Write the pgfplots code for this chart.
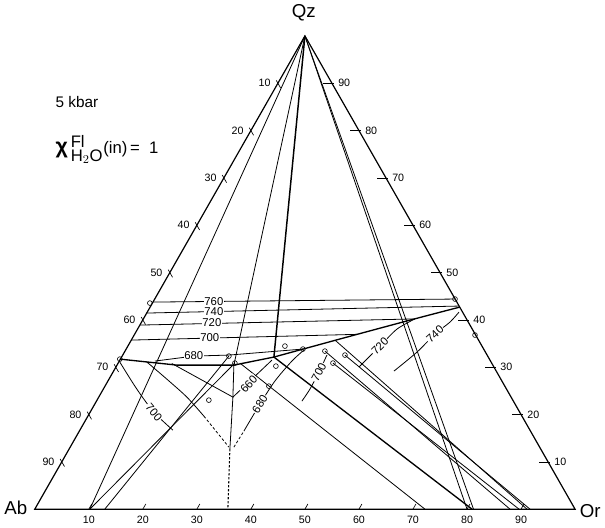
\documentclass[border=0pt]{standalone}
\usepackage{fontspec}
\setmainfont{Liberation Sans}
\usepackage{pgfplots}
\pgfplotsset{compat=1.18}
\newcommand\ticksize{\fontsize{8}{9}\selectfont}
\newcommand\isosize{\fontsize{8.5}{10}\selectfont}
% Ternary Qz-Ab-Or diagram: X = Or + Qz/2, Y = Qz (per cent)
\begin{document}
\begin{tikzpicture}
\begin{axis}[
  x=4.05pt, y=3.5475pt,
  xmin=-7.04, xmax=105.0, ymin=-2.96, ymax=107.82,
  hide axis, clip=false,
  cycle list={{black, solid, mark=none}},
  every axis plot/.append style={black, line width=0.6pt},
]
% frame of the triangle
\addplot[line width=0.9pt] coordinates {(0,0) (100,0) (50,100)} --cycle;

% edge ticks and labels
\pgfplotsinvokeforeach{10,20,...,90}{
  \draw[line width=0.5pt] (axis cs:#1,0) -- (axis cs:{#1+0.55},1.1);
  \node[font=\ticksize] at (axis cs:#1,-2.2) {#1};
  \draw[line width=0.5pt] (axis cs:{(100-#1)/2-0.3},{100-#1+0.6}) -- (axis cs:{(100-#1)/2+0.5},{100-#1-1.0});
  \node[anchor=east,font=\ticksize] at (axis cs:{(100-#1)/2-0.5},{100-#1}) {#1};
  \draw[line width=0.5pt] (axis cs:{100-#1/2-1.6},#1) -- (axis cs:{100-#1/2+0.3},#1);
  \node[anchor=west,font=\ticksize] at (axis cs:{100-#1/2+0.3},#1) {#1};
}

% joins from the Qz apex
\addplot coordinates {(50,100) (10.19,0)};
\addplot coordinates {(50,100) (36.85,30.44) (36.67,23.68) (36.11,12.68)};
\addplot[line width=0.8pt, dash pattern=on 1.6pt off 1.4pt] coordinates {(36.11,12.68) (35.74,0)};
\addplot[line width=1.1pt] coordinates {(50,100) (44.26,32.14)};
\addplot coordinates {(50,100) (80.0,0)};
\addplot coordinates {(50,100) (81.2,0)};

% cotectic boundaries
\addplot[line width=1pt] coordinates {(15.74,31.71) (26.30,30.44) (36.85,30.44) (44.26,32.14)};
\addplot[line width=1pt, smooth] coordinates {(44.26,32.14) (57.78,36.36) (70.19,40.17) (78.70,42.71)};

% isotherms in the quartz field
\addplot coordinates {(21.88,43.76) (77.8,44.40)};
\addplot coordinates {(20.72,41.44) (78.52,42.92)};
\addplot coordinates {(19.45,38.90) (70.37,40.20)};
\addplot coordinates {(17.87,35.73) (59.63,36.94)};
\addplot coordinates {(22.22,31.29) (29.44,32.35) (35.93,32.56) (49.63,33.83)};

% tie lines to feldspar on the Ab-Or join
\addplot coordinates {(10.19,0) (37.04,30.87)};
\addplot coordinates {(12.96,0) (35.93,32.35)};
\addplot coordinates {(37.96,30.87) (72.22,0)};
\addplot[line width=1pt] coordinates {(44.26,32.14) (80.93,0)};
\addplot coordinates {(53.70,33.40) (87.96,0)};
\addplot coordinates {(55.19,30.87) (89.63,0)};
\addplot coordinates {(55.56,35.73) (91.11,0)};
\addplot coordinates {(57.41,32.56) (91.67,0)};

% isotherms in the feldspar fields
\addplot[smooth] coordinates {(15.74,31.08) (18.89,25.37) (22.04,20.51) (25.56,16.70)};
\addplot[smooth] coordinates {(20.74,31.10) (24.44,27.48) (28.15,23.68) (31.30,19.66)};
\addplot[dash pattern=on 2pt off 1.6pt] coordinates {(31.30,19.66) (35.93,13.11)};
\addplot coordinates {(25.37,30.78) (36.67,23.68) (43.90,31.50)};
\addplot[dash pattern=on 2pt off 1.6pt] coordinates {(36.85,13.11) (38.70,16.49)};
\addplot[smooth] coordinates {(38.70,16.49) (41.67,22.20) (44.44,27.06) (47.59,31.29) (49.90,33.70)};
\addplot[smooth] coordinates {(49.44,22.83) (50.93,25.37) (52.59,28.96) (54.07,32.56)};
\addplot[smooth] coordinates {(60.00,30.02) (63.89,34.46) (67.04,38.05) (70.37,40.20)};
\addplot[smooth] coordinates {(66.48,29.18) (70.74,33.19) (74.07,37.00) (76.85,39.53) (78.52,41.65)};

% experimental melt compositions
\addplot[only marks, mark=o, mark size=1.8pt, mark options={line width=0.45pt, fill=white}] coordinates {
  (21.30,43.55) (15.74,31.71) (35.93,32.35) (37.04,30.87) (46.30,34.46)
  (49.63,33.83) (44.63,30.23) (43.33,26.00) (32.22,23.04) (53.70,33.40)
  (57.41,32.56) (55.19,30.87) (81.48,36.79) (77.78,44.40)};

% isotherm labels
\tikzset{iso/.style={fill=white, inner sep=0.6pt, font=\isosize}}
\node[iso] at (axis cs:33.15,43.89) {760};
\node[iso] at (axis cs:33.15,41.76) {740};
\node[iso] at (axis cs:32.78,39.34) {720};
\node[iso] at (axis cs:32.40,36.24) {700};
\node[iso] at (axis cs:29.44,32.35) {680};
\node[iso, rotate=-50] at (axis cs:22.04,20.51) {700};
\node[iso, rotate=48] at (axis cs:39.63,26.43) {660};
\node[iso, rotate=58] at (axis cs:41.67,22.20) {680};
\node[iso, rotate=62] at (axis cs:52.59,28.96) {700};
\node[iso, rotate=45] at (axis cs:63.89,34.46) {720};
\node[iso, rotate=42] at (axis cs:74.07,37.00) {740};

% apex names and conditions
\node[font=\fontsize{14}{16}\selectfont] at (axis cs:49.8,104.9) {Qz};
\node[font=\fontsize{14}{16}\selectfont] at (axis cs:-3.5,0.2) {Ab};
\node[font=\fontsize{14}{16}\selectfont] at (axis cs:102.8,-0.3) {Or};
\node[anchor=west, font=\fontsize{11.5}{13}\selectfont] at (axis cs:3.0,86.0) {5 kbar};
\node[anchor=west, font=\fontsize{12.5}{14}\selectfont] at (axis cs:3.0,76.0)
  {{\fontsize{16}{18}\selectfont\textbf{χ}}\,$^{\mbox{Fl}}_{\mbox{H$_2$O}}$(in)\,=\ \ 1};
\end{axis}
\end{tikzpicture}
\end{document}
